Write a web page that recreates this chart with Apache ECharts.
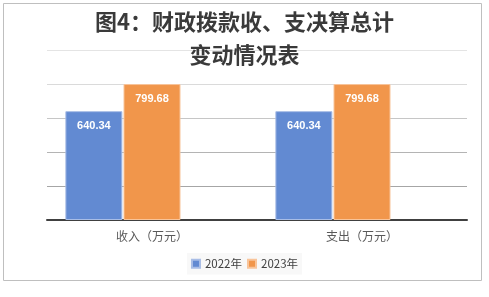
<!DOCTYPE html>
<html><head><meta charset="utf-8">
<script src="https://cdn.jsdelivr.net/npm/echarts@6/dist/echarts.min.js"></script>
<style>html,body{margin:0;padding:0;background:#fff}#c{width:489px;height:297px}</style>
</head><body><div id="c"></div>
<script>
const categories = ['收入（万元）', '支出（万元）'];
const seriesNames = ['2022年', '2023年'];
const values2022 = [640.34, 640.34];
const values2023 = [799.68, 799.68];
const titleLines = ['图4：财政拨款收、支决算总计', '变动情况表'];

const chart = echarts.init(document.getElementById('c'));
const labelCfg = {show: true, position: 'insideTop', distance: 9, color: '#fff', fontWeight: 'bold', fontSize: 11, fontFamily: 'Liberation Sans'};
const titleStyle = {fontSize: 22, fontWeight: 'bold', color: '#3a3a3a', fontFamily: 'Noto Sans CJK SC'};
chart.setOption({
  animation: false,
  graphic: [{type: 'rect', shape: {x: 3.5, y: 3.5, width: 478, height: 277}, style: {fill: 'none', stroke: '#bfbfbf', lineWidth: 1}, z: -10}],
  title: [
    {text: titleLines[0], left: 'center', top: 11, padding: 0, textStyle: titleStyle},
    {text: titleLines[1], left: 'center', top: 44, padding: 0, textStyle: titleStyle}
  ],
  legend: {data: seriesNames, left: 'center', top: 253, icon: 'rect', itemWidth: 8, itemHeight: 8, itemGap: 5,
    backgroundColor: '#f8f8f8', padding: [5, 4],
    textStyle: {fontSize: 11.5, color: '#404040', fontFamily: 'Noto Sans CJK SC'}},
  grid: {left: 47, right: 22, top: 50, bottom: 77},
  xAxis: {type: 'category', data: categories,
    axisLine: {lineStyle: {color: '#404040', width: 2}}, axisTick: {show: false},
    axisLabel: {fontSize: 12, color: '#595959', margin: 10, fontFamily: 'Noto Sans CJK SC'}},
  yAxis: {type: 'value', min: 0, max: 1000, interval: 200, axisLabel: {show: false},
    axisLine: {show: false}, axisTick: {show: false},
    splitLine: {lineStyle: {color: ['#a0a0a0', '#a6a6a6', '#b4b4b4', '#c6c6c6', '#dadada', '#e4e4e4'], width: 1}}},
  series: [
    {name: seriesNames[0], type: 'bar', data: values2022, barWidth: 57, barGap: '2%',
      itemStyle: {color: '#628ad2', borderColor: '#a8bde6', borderWidth: 1}, label: labelCfg},
    {name: seriesNames[1], type: 'bar', data: values2023, barWidth: 57, barGap: '2%',
      itemStyle: {color: '#f1964b', borderColor: '#f8c49a', borderWidth: 1}, label: labelCfg},
    {name: 'pad', type: 'bar', data: [null, null], barWidth: 57, barGap: '2%'}
  ]
});
</script></body></html>
